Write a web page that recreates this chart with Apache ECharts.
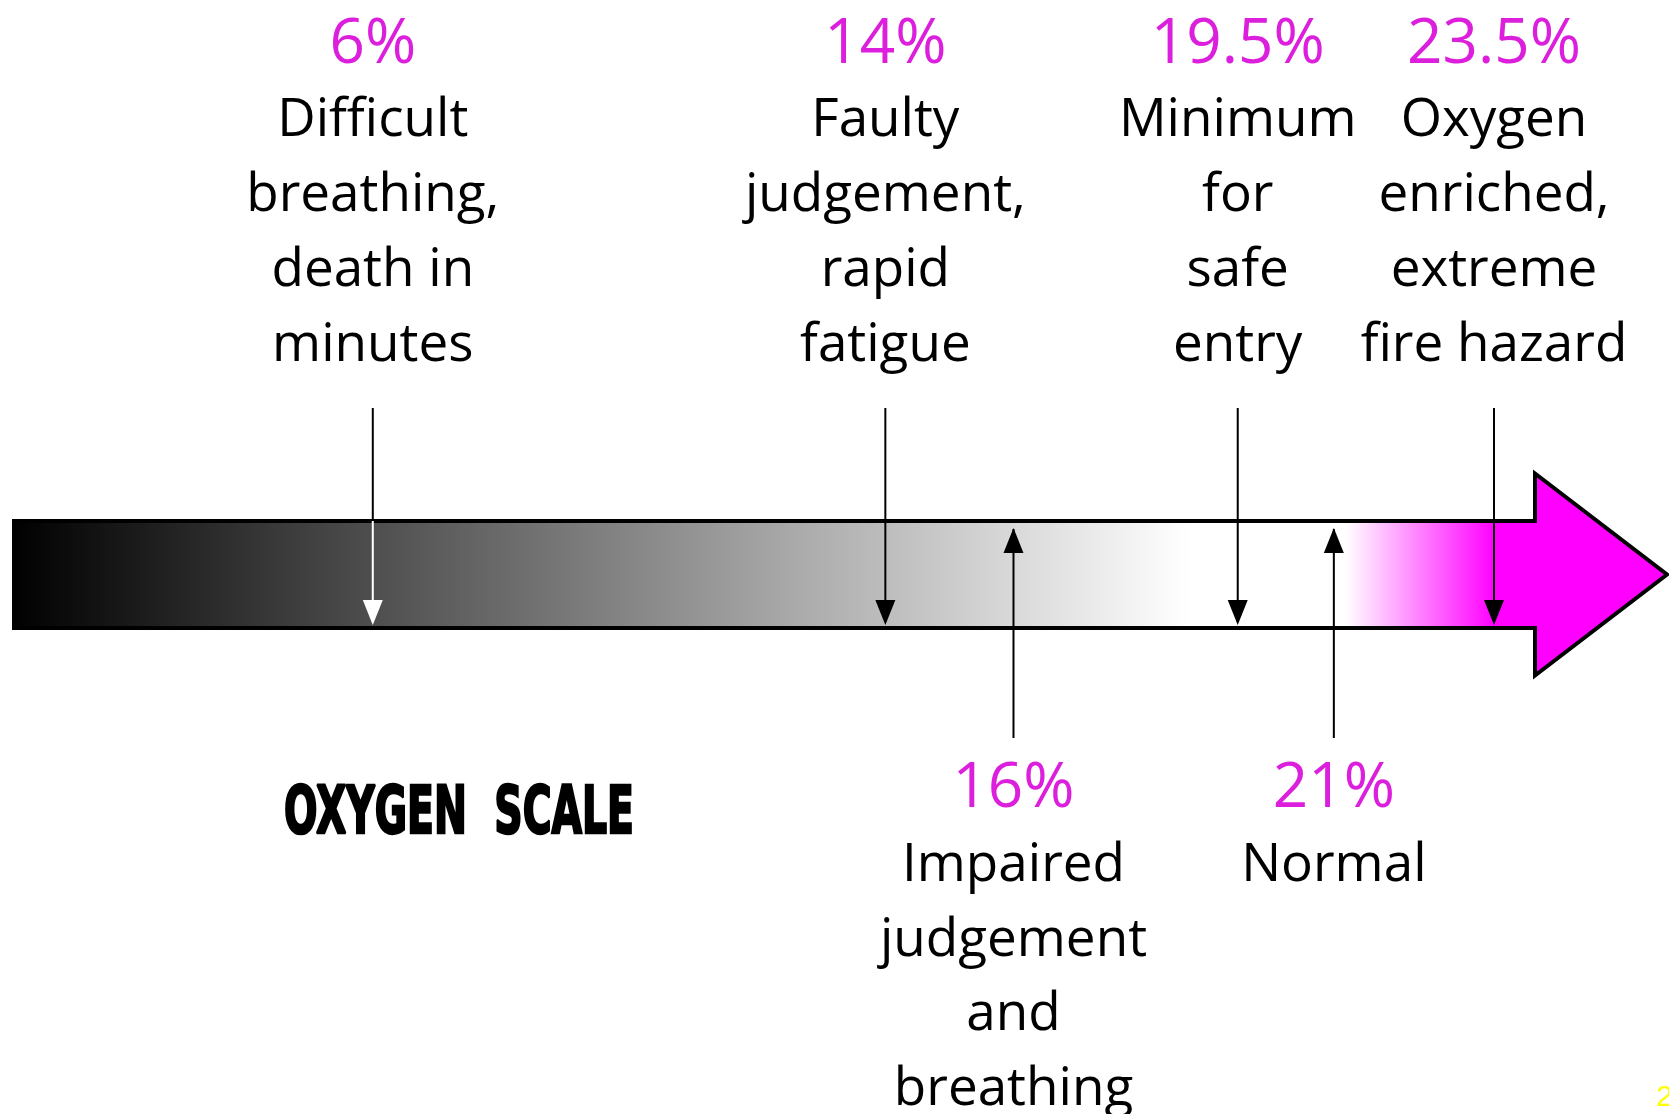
<!DOCTYPE html>
<html><head><meta charset="utf-8">
<script src="https://cdn.jsdelivr.net/npm/echarts@6.0.0/dist/echarts.min.js"></script>
<style>html,body{margin:0;padding:0;background:#fff}#chart{width:1669px;height:1114px}</style>
</head><body><div id="chart"></div>
<script>
// ---- data ----
const levels = [6, 14, 16, 19.5, 21, 23.5];
const levelLabels = ['6%', '14%', '16%', '19.5%', '21%', '23.5%'];
const descriptions = [
  ['Difficult', 'breathing,', 'death in', 'minutes'],
  ['Faulty', 'judgement,', 'rapid', 'fatigue'],
  ['Impaired', 'judgement', 'and', 'breathing'],
  ['Minimum', 'for', 'safe', 'entry'],
  ['Normal'],
  ['Oxygen', 'enriched,', 'extreme', 'fire hazard']
];
const sides = ['above', 'above', 'below', 'above', 'below', 'above'];
const scaleTitle = 'OXYGEN  SCALE';
const pageNumber = '2';

// ---- styling ----
const FONT = '"Open Sans", "Noto Sans", sans-serif';
const MAGENTA = '#dc1fdc';
const WHITE_AT = 0.711;
const stops = [
  {offset: 0, color: '#000000'},
  {offset: WHITE_AT, color: '#ffffff'},
  {offset: 0.805, color: '#ffffff'},
  {offset: 0.895, color: '#ff00ff'},
  {offset: 1, color: '#ff00ff'}
];

function renderScale(params, api) {
  const cs = params.coordSys;
  const x0 = cs.x, x1 = cs.x + cs.width, top = cs.y, bot = cs.y + cs.height, mid = (top + bot) / 2;
  const headLen = 132, headHalf = 101;
  const hb = x1 - headLen;
  return {
    type: 'polygon',
    shape: {points: [[x0, top], [hb, top], [hb, mid - headHalf], [x1, mid], [hb, mid + headHalf], [hb, bot], [x0, bot]]},
    style: {fill: new echarts.graphic.LinearGradient(0, 0, 1, 0, stops), stroke: '#000', lineWidth: 4, lineJoin: 'miter'}
  };
}

function txt(text, x, y, color, size) {
  return {type: 'text', style: {text: text, x: x, y: y, fill: color, fontSize: size, fontFamily: FONT, align: 'center', verticalAlign: 'middle'}};
}
function ln(x, y1, y2, color) {
  return {type: 'line', shape: {x1: x, y1: y1, x2: x, y2: y2}, style: {stroke: color, lineWidth: 2}};
}
function tri(x, yBase, yTip, color) {
  return {type: 'polygon', shape: {points: [[x - 10, yBase], [x + 10, yBase], [x, yTip]]}, style: {fill: color}};
}

function renderMarker(params, api) {
  const i = params.dataIndex;
  const cs = params.coordSys;
  const x = api.coord([api.value(0), 0])[0];
  const top = cs.y, bot = cs.y + cs.height;
  const f = (x - cs.x) / cs.width;
  const inner = (f / WHITE_AT < 0.45) ? '#ffffff' : '#000000';
  const children = [];
  const lines = descriptions[i];
  if (sides[i] === 'above') {
    children.push(ln(x, top - 113, top, '#000'));
    children.push(ln(x, top, bot - 6, inner));
    children.push(tri(x, bot - 28, bot - 3, inner));
    children.push(txt(levelLabels[i], x, 45, MAGENTA, 62));
    lines.forEach((t, k) => children.push(txt(t, x, 121 + k * 75, '#000', 53)));
  } else {
    children.push(ln(x, bot + 110, bot, '#000'));
    children.push(ln(x, bot, top + 8, inner));
    children.push(tri(x, top + 32, top + 7, inner));
    children.push(txt(levelLabels[i], x, 789, MAGENTA, 62));
    lines.forEach((t, k) => children.push(txt(t, x, 866 + k * 74.5, '#000', 53)));
  }
  return {type: 'group', children: children};
}

// compress the heavy title to its width in the picture
const titleFont = 'bold 66px "Liberation Sans Narrow", "DejaVu Sans Condensed", "DejaVu Sans", sans-serif';
const mctx = document.createElement('canvas').getContext('2d');
mctx.font = titleFont;
const titleScale = 350 / mctx.measureText(scaleTitle).width;

const chart = echarts.init(document.getElementById('chart'), null, {renderer: 'canvas'});
chart.setOption({
  animation: false,
  backgroundColor: '#ffffff',
  grid: {left: 14, right: 2, top: 521, height: 107},
  xAxis: {type: 'value', min: 0.4, max: 26.2, show: false},
  yAxis: {type: 'value', min: 0, max: 1, show: false},
  graphic: [
    {type: 'text', x: 284, y: 816, scaleX: titleScale, style: {text: scaleTitle, font: titleFont, fill: '#000', stroke: '#000', lineWidth: 2.5, align: 'left', verticalAlign: 'middle'}},
    {type: 'text', x: 1656, y: 1098, style: {text: pageNumber, fontSize: 30, fontFamily: 'Liberation Sans, sans-serif', fill: '#ffff00', align: 'left', verticalAlign: 'middle'}}
  ],
  series: [
    {type: 'custom', silent: true, renderItem: renderScale, data: [[0]], z: 1},
    {type: 'custom', silent: true, renderItem: renderMarker, data: levels.map(v => [v]), z: 2}
  ]
});
</script>
</body></html>
